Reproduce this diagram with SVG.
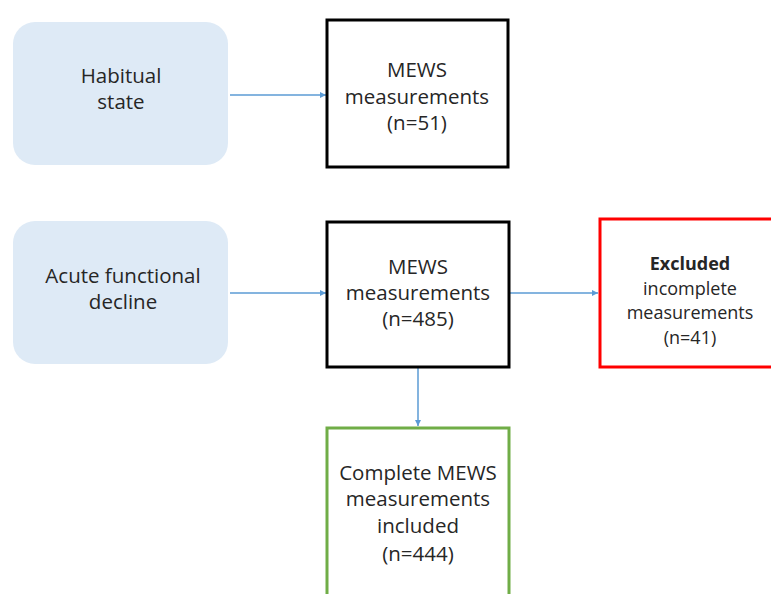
<svg xmlns="http://www.w3.org/2000/svg" width="771" height="594" viewBox="0 0 771 594">
<style>
.t{font-family:"Open Sans","Liberation Sans",sans-serif;font-size:20.5px;fill:#262626;text-anchor:middle}
.s{font-size:18px}
.b{font-weight:bold}
.soft{fill:#deeaf6;stroke:none}
.box{fill:#fff;stroke-width:3}
.conn{stroke:#5b9bd5;stroke-width:1.5;fill:none;marker-end:url(#ah)}
</style>
<defs>
<marker id="ah" viewBox="0 0 10 10" refX="10" refY="5" markerWidth="6" markerHeight="6" markerUnits="userSpaceOnUse" orient="auto">
<path d="M0,0L10,5L0,10z" fill="#5b9bd5"/>
</marker>
</defs>
<rect width="771" height="594" fill="#fff"/>
<g id="connectors">
<line class="conn" x1="230" y1="95" x2="326" y2="95"/>
<line class="conn" x1="230" y1="293" x2="326" y2="293"/>
<line class="conn" x1="510" y1="293" x2="598" y2="293"/>
<line class="conn" x1="418" y1="368" x2="418" y2="426"/>
</g>
<g id="habitual">
<rect class="soft" x="13" y="22" width="215" height="143" rx="22"/>
<text class="t" x="121" y="83">Habitual</text>
<text class="t" x="121" y="109">state</text>
</g>
<g id="mews1">
<rect class="box" x="327" y="20" width="181" height="147" stroke="#000"/>
<text class="t" x="417" y="77">MEWS</text>
<text class="t" x="417" y="104">measurements</text>
<text class="t" x="417" y="130">(n=51)</text>
</g>
<g id="acute">
<rect class="soft" x="13" y="221" width="215" height="143" rx="22"/>
<text class="t" x="123" y="283">Acute functional</text>
<text class="t" x="123" y="309">decline</text>
</g>
<g id="mews2">
<rect class="box" x="327" y="222" width="182" height="145" stroke="#000"/>
<text class="t" x="418" y="274">MEWS</text>
<text class="t" x="418" y="300">measurements</text>
<text class="t" x="418" y="326">(n=485)</text>
</g>
<g id="excluded">
<rect class="box" x="600" y="219" width="180" height="148" stroke="#ff0000"/>
<text class="t s b" x="690" y="270">Excluded</text>
<text class="t s" x="690" y="295">incomplete</text>
<text class="t s" x="690" y="319">measurements</text>
<text class="t s" x="690" y="344">(n=41)</text>
</g>
<g id="included">
<rect class="box" x="327" y="428" width="182" height="180" stroke="#70ad47"/>
<text class="t" x="418" y="480">Complete MEWS</text>
<text class="t" x="418" y="506">measurements</text>
<text class="t" x="418" y="533">included</text>
<text class="t" x="418" y="561">(n=444)</text>
</g>
</svg>
